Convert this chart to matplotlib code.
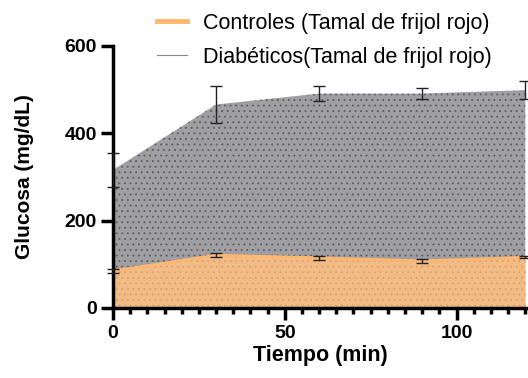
import numpy as np
import matplotlib.pyplot as plt
from matplotlib.ticker import MultipleLocator

plt.rcParams['font.family'] = ['Liberation Sans', 'DejaVu Sans']
plt.rcParams['hatch.linewidth'] = 0.6

tiempo = [0, 30, 60, 90, 120]
controles = [85, 121, 115, 108, 116]
controles_err = [4, 5, 4, 5, 2]
diabeticos = [316, 466, 491, 491, 499]
diabeticos_err = [40, 42, 18, 13, 20]

lbl_control = "Controles (Tamal de frijol rojo)"
lbl_diab = "Diabéticos(Tamal de frijol rojo)"

fig = plt.figure(figsize=(5.28, 3.78), dpi=100)
ax = fig.add_axes([113/528, 70/378, 414/528, 262/378])

# diabetic area (grey, dotted)
ax.fill_between(tiempo, 0, diabeticos, facecolor='#9e9ea3', edgecolor='#5a5a61',
                hatch='...', linewidth=0, zorder=1)
# control area (orange, faint dots)
ax.fill_between(tiempo, 0, controles, facecolor='#f2bb85', edgecolor='#d6a070',
                hatch='...', linewidth=0, zorder=2)
ax.plot(tiempo, controles, color='#ffb66e', lw=2, zorder=2.5)

ax.errorbar(tiempo, diabeticos, yerr=diabeticos_err, fmt='none', ecolor='#222222',
            elinewidth=1, capsize=4.5, capthick=1, zorder=3, clip_on=False)
ax.errorbar(tiempo, controles, yerr=controles_err, fmt='none', ecolor='#222222',
            elinewidth=1, capsize=4, capthick=1, zorder=3, clip_on=False)

ax.set_xlim(0, 120.5)
ax.set_ylim(0, 600)
ax.xaxis.set_major_locator(MultipleLocator(50))
ax.xaxis.set_minor_locator(MultipleLocator(5))
ax.yaxis.set_major_locator(MultipleLocator(200))

for s in ['top', 'right']:
    ax.spines[s].set_visible(False)
for s in ['left', 'bottom']:
    ax.spines[s].set_linewidth(2.5)
ax.tick_params(axis='both', which='major', direction='out', length=8.5, width=2.5,
               labelsize=14, pad=3)
ax.tick_params(axis='x', which='major', pad=4)
ax.tick_params(axis='x', which='minor', direction='out', length=4, width=2.5)
for t in ax.get_xticklabels() + ax.get_yticklabels():
    t.set_fontweight('bold')

ax.set_xlabel("Tiempo (min)", fontsize=15.5, fontweight='bold', labelpad=2)
ax.set_ylabel("Glucosa (mg/dL)", fontsize=15, fontweight='bold', labelpad=22)

h1, = ax.plot([], [], color='#ffb66e', lw=3.5)
h2, = ax.plot([], [], color='#888888', lw=0.8)
fig.legend([h1, h2], [lbl_control, lbl_diab], loc='upper left',
           bbox_to_anchor=(148/528, 1 - 4/378), frameon=False, fontsize=15.5,
           handlelength=1.4, handletextpad=0.75, labelspacing=0.6,
           borderaxespad=0.0)

fig.savefig("out.png", dpi=100)
